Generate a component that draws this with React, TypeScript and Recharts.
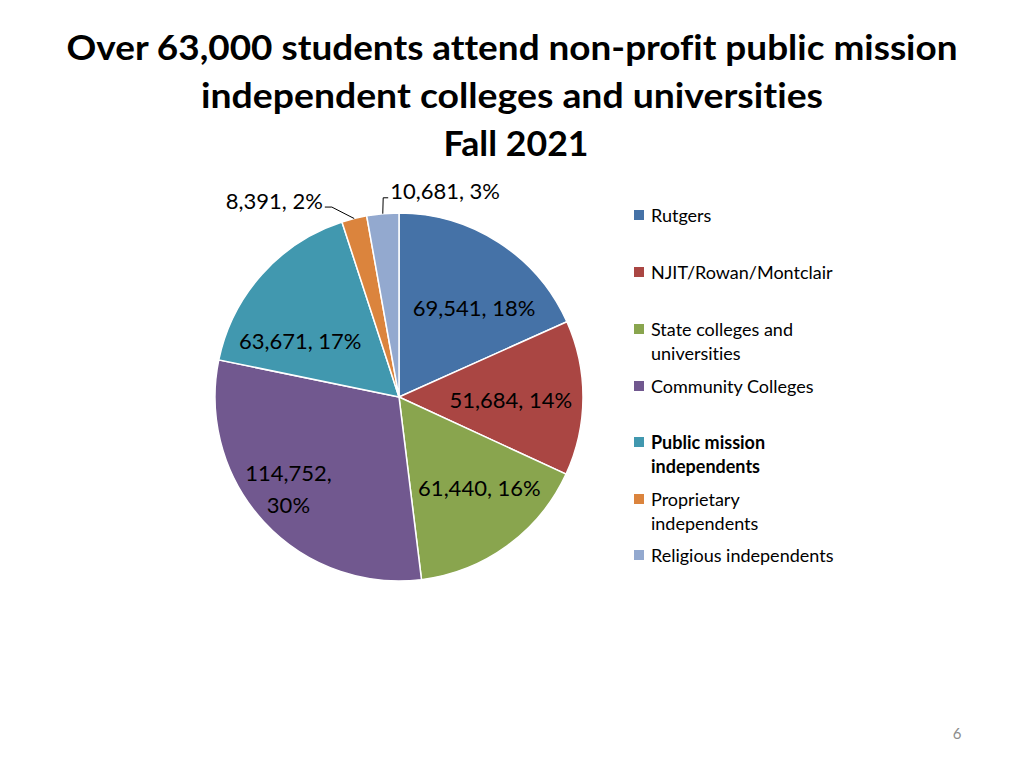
import { PieChart, Pie, Cell, Legend } from "recharts";

// Fall 2021 enrollment by sector
const CATEGORIES = [
  "Rutgers",
  "NJIT/Rowan/Montclair",
  "State colleges and universities",
  "Community Colleges",
  "Public mission independents",
  "Proprietary independents",
  "Religious independents"
];
const ENROLLMENT = [69541, 51684, 61440, 114752, 63671, 8391, 10681];
const COLORS = [
  "#4572A7",
  "#AA4643",
  "#89A54E",
  "#71588F",
  "#4198AF",
  "#DB843D",
  "#93A9CF"
];

// legend text as it wraps on the slide
const LEGEND_LABELS = [
  "Rutgers",
  "NJIT/Rowan/Montclair",
  "State colleges and\nuniversities",
  "Community Colleges",
  "Public mission\nindependents",
  "Proprietary\nindependents",
  "Religious independents"
];
const LEGEND_BOLD = [false, false, false, false, true, false, false];

const TITLE_LINES = [
  "Over 63,000 students attend non-profit public mission",
  "independent colleges and universities",
  "Fall 2021"
];

// layout tweaks (not data)
const LEGEND_ROW_CENTER = [215, 272, 329, 386, 442, 499, 555];
const LABEL_LAYOUT = [
  { dx: 11, dy: 9, wrap: false, side: 0 },
  { dx: -6, dy: 2, wrap: false, side: 0 },
  { dx: 11, dy: -5, wrap: false, side: 0 },
  { dx: -24, dy: 12, wrap: true, side: 0 },
  { dx: -11, dy: 22, wrap: false, side: 0 },
  { dx: -18, dy: 6, wrap: false, side: -1 },
  { dx: 2, dy: 2, wrap: false, side: 1 }
];

const FONT = "Lato, 'Open Sans', sans-serif";
const NO_LIGA = { fontVariantLigatures: "none" as const };
const RAD = Math.PI / 180;

const data = CATEGORIES.map((name, i) => ({ name, value: ENROLLMENT[i] }));

const polar = (cx: number, cy: number, r: number, angle: number) => ({
  x: cx + r * Math.cos(-angle * RAD),
  y: cy + r * Math.sin(-angle * RAD)
});

function renderLabel(props: any) {
  const { cx, cy, midAngle, outerRadius, index, value, percent } = props;
  const pct = Math.round(percent * 100);
  const num = Number(value).toLocaleString("en-US");
  const lay = LABEL_LAYOUT[index];

  if (lay.side !== 0) {
    // small slices: label outside with an elbow leader line
    const edge = polar(cx, cy, outerRadius, midAngle);
    const p = polar(cx, cy, outerRadius + 18, midAngle);
    const ex = p.x + lay.dx;
    const ey = p.y + lay.dy;
    const left = lay.side < 0;
    const tx = left ? ex - 7 : ex + 5;
    return (
      <g key={`lbl-${index}`}>
        <polyline
          points={`${edge.x},${edge.y} ${ex},${ey} ${tx},${ey}`}
          fill="none"
          stroke="#000"
          strokeWidth={1}
        />
        <text
          x={left ? tx - 2 : tx + 2}
          y={ey - 7}
          textAnchor={left ? "end" : "start"}
          dominantBaseline="central"
          fill="#000"
          fontSize={22}
          fontFamily={FONT}
        >
          {`${num}, ${pct}%`}
        </text>
      </g>
    );
  }

  const p = polar(cx, cy, outerRadius * 0.64, midAngle);
  const x = p.x + lay.dx;
  const y = p.y + lay.dy;
  if (lay.wrap) {
    return (
      <text
        key={`lbl-${index}`}
        x={x}
        y={y}
        textAnchor="middle"
        fill="#000"
        fontSize={22}
        fontFamily={FONT}
      >
        <tspan x={x} y={y - 16} dominantBaseline="central">{`${num},`}</tspan>
        <tspan x={x} y={y + 16} dominantBaseline="central">{`${pct}%`}</tspan>
      </text>
    );
  }
  return (
    <text
      key={`lbl-${index}`}
      x={x}
      y={y}
      textAnchor="middle"
      dominantBaseline="central"
      fill="#000"
      fontSize={22}
      fontFamily={FONT}
    >
      {`${num}, ${pct}%`}
    </text>
  );
}

function LegendBox(props: any) {
  const items: any[] =
    props.payload && props.payload.length
      ? props.payload
      : CATEGORIES.map((c, i) => ({ value: c, color: COLORS[i] }));
  return (
    <div style={{ position: "relative", width: 260, height: 600 }}>
      {items.map((item, i) => (
        <div
          key={`leg-${i}`}
          style={{
            position: "absolute",
            left: 0,
            top: LEGEND_ROW_CENTER[i] - 12,
            display: "flex",
            alignItems: "flex-start",
            fontFamily: FONT,
            fontSize: 18,
            lineHeight: "24px",
            color: "#000",
            fontWeight: LEGEND_BOLD[i] ? 700 : 400,
            whiteSpace: "pre",
            textAlign: "left",
            ...NO_LIGA
          }}
        >
          <span
            style={{
              display: "inline-block",
              width: 10,
              height: 10,
              marginTop: 7,
              marginRight: 7,
              background: COLORS[i] ?? item.color
            }}
          />
          <span>{LEGEND_LABELS[i]}</span>
        </div>
      ))}
    </div>
  );
}

export default function App() {
  return (
    <div
      style={{
        position: "absolute",
        left: 0,
        top: 0,
        width: 1024,
        height: 768,
        background: "#fff"
      }}
    >
      <PieChart
        width={1024}
        height={768}
        margin={{ top: 0, right: 0, bottom: 0, left: 0 }}
      >
        <Pie
          data={data}
          dataKey="value"
          nameKey="name"
          cx={399}
          cy={397}
          outerRadius={184}
          startAngle={90}
          endAngle={-270}
          stroke="#fff"
          strokeWidth={1.5}
          label={renderLabel}
          labelLine={false}
          isAnimationActive={false}
        >
          {data.map((d, i) => (
            <Cell key={d.name} fill={COLORS[i]} />
          ))}
        </Pie>
        <Legend
          content={<LegendBox />}
          wrapperStyle={{ position: "absolute", left: 634, top: 0, width: 260 }}
        />
      </PieChart>
      <svg
        width={1024}
        height={768}
        style={{
          position: "absolute",
          left: 0,
          top: 0,
          pointerEvents: "none",
          ...NO_LIGA
        }}
      >
        <text
          x={512}
          y={60}
          textAnchor="middle"
          fontFamily={FONT}
          fontWeight={700}
          fontSize={34}
          fill="#000"
          textLength={891}
          lengthAdjust="spacingAndGlyphs"
        >
          {TITLE_LINES[0]}
        </text>
        <text
          x={512}
          y={108}
          textAnchor="middle"
          fontFamily={FONT}
          fontWeight={700}
          fontSize={34}
          fill="#000"
          textLength={622}
          lengthAdjust="spacingAndGlyphs"
        >
          {TITLE_LINES[1]}
        </text>
        <text
          x={516}
          y={156}
          textAnchor="middle"
          fontFamily={FONT}
          fontWeight={700}
          fontSize={34}
          fill="#000"
          textLength={145}
          lengthAdjust="spacingAndGlyphs"
        >
          {TITLE_LINES[2]}
        </text>
        <text
          x={957}
          y={733}
          textAnchor="middle"
          dominantBaseline="central"
          fontFamily={FONT}
          fontSize={15}
          fill="#8c8c8c"
        >
          6
        </text>
      </svg>
    </div>
  );
}
